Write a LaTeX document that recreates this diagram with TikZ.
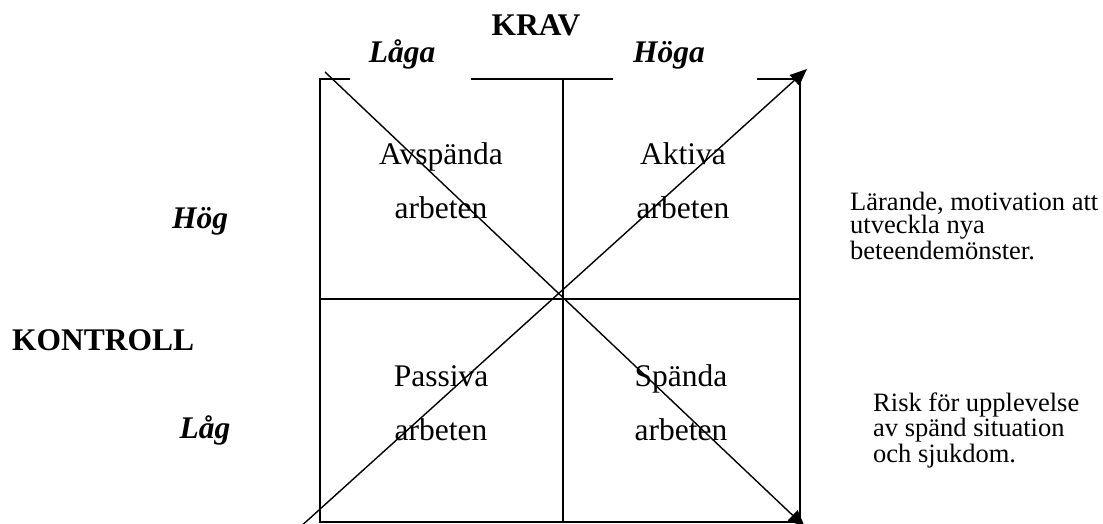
\documentclass[tikz,border=0pt]{standalone}
\usepackage{fontspec}
\setmainfont{Liberation Serif}
\usetikzlibrary{arrows.meta,positioning}

\begin{document}
\begin{tikzpicture}[
  x=1pt, y=-1pt,
  axis/.style={font=\fontsize{31.5}{36}\selectfont\bfseries, anchor=base, inner sep=0pt},
  level/.style={font=\fontsize{31.5}{36}\selectfont\bfseries\itshape, anchor=base, inner sep=0pt},
  quad/.style={font=\fontsize{31.5}{54}\selectfont, align=center, anchor=base, inner sep=0pt},
  note/.style={font=\fontsize{26.5}{23.5}\selectfont, align=left, anchor=base west, inner sep=0pt},
  frame/.style={line width=1.8pt},
  diag/.style={line width=1.4pt, -{Triangle[length=17pt,width=14pt]}},
]
  \useasboundingbox (0,0) rectangle (1103,524);

  % axis labels
  \node[axis] (krav) at (536,36) {KRAV};
  \node[level] (laga) at (402,63) {Låga};
  \node[level] (hoga) at (669,63) {Höga};
  \node[axis, anchor=base west] (kontroll) at (12,350) {KONTROLL};
  \node[level] (hog) at (200,228) {Hög};
  \node[level] (lag) at (205,438) {Låg};

  % the four fields (anchored on the last line)
  \node[quad] (avsp) at (441,218) {Avspända\\arbeten};
  \node[quad] (akt) at (683,218) {Aktiva\\arbeten};
  \node[quad] (pass) at (441,440) {Passiva\\arbeten};
  \node[quad] (spa) at (681,440) {Spända\\arbeten};

  % side notes
  \node[note] (larande) at (850,259) {Lärande, motivation att\\utveckla nya\\beteendemönster.};
  \node[note] (risk) at (873,462) {Risk för upplevelse\\av spänd situation\\och sjukdom.};

  % grid
  \coordinate (nw) at (320,79);
  \coordinate (ne) at (800,79);
  \coordinate (sw) at (320,522);
  \coordinate (se) at (800,522);
  \draw[frame] (350,79) -- (nw) -- (sw) -- (se) -- (ne) -- (757,79);
  \draw[frame] (471,79) -- (613,79);
  \draw[frame] (563,79) -- (563,522);
  \draw[frame] (320,299) -- (800,299);

  % diagonals
  \coordinate (d1s) at (325,72);
  \coordinate (d1e) at (805,527);
  \coordinate (d2s) at (298,529);
  \coordinate (d2e) at (807,69);
  \draw[diag] (d1s) -- (d1e);
  \draw[diag] (d2s) -- (d2e);
\end{tikzpicture}
\end{document}
